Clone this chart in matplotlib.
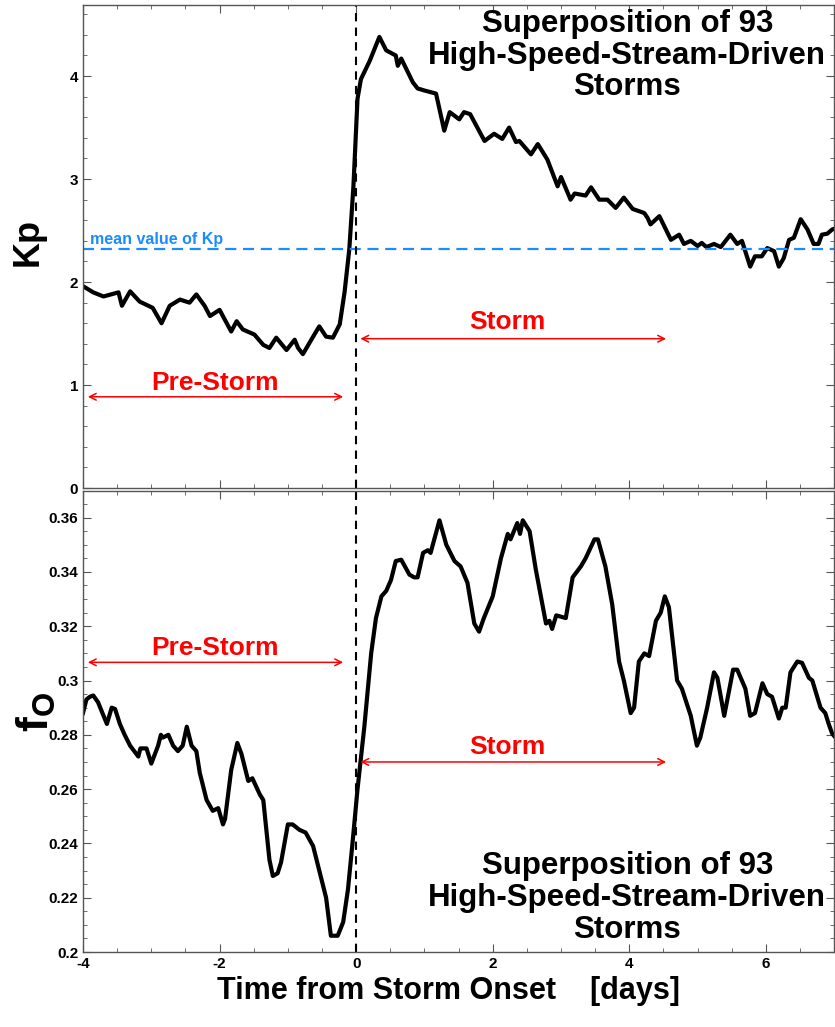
import numpy as np
import matplotlib
matplotlib.use("Agg")
import matplotlib.pyplot as plt
from matplotlib.ticker import MultipleLocator, FuncFormatter

plt.rcParams['font.family'] = ['Liberation Sans', 'DejaVu Sans']
plt.rcParams['font.weight'] = 'bold'
plt.rcParams['mathtext.fontset'] = 'custom'
plt.rcParams['mathtext.rm'] = 'Liberation Sans:bold'
plt.rcParams['mathtext.bf'] = 'Liberation Sans:bold'

# superposed Kp (days from onset, Kp)
kp_t = [-4.0, -3.85, -3.70, -3.48, -3.43, -3.31, -3.17, -2.98, -2.85, -2.73, -2.58,
        -2.44, -2.34, -2.22, -2.14, -2.0, -1.83, -1.75, -1.66, -1.49, -1.36, -1.27,
        -1.17, -1.02, -0.90, -0.85, -0.78, -0.63, -0.54, -0.44, -0.34, -0.24, -0.17,
        -0.10, -0.04, 0.02, 0.07, 0.20, 0.34, 0.44, 0.58, 0.61, 0.66, 0.83, 0.90,
        1.0, 1.17, 1.29, 1.37, 1.51, 1.58, 1.67, 1.88, 2.02, 2.14, 2.24, 2.34, 2.39,
        2.56, 2.66, 2.80, 2.95, 3.0, 3.14, 3.2, 3.36, 3.44, 3.56, 3.68, 3.80, 3.92,
        4.05, 4.22, 4.27, 4.31, 4.44, 4.61, 4.73, 4.80, 4.90, 5.0, 5.06, 5.13, 5.24,
        5.34, 5.48, 5.58, 5.65, 5.77, 5.84, 5.94, 6.02, 6.12, 6.19, 6.26, 6.34, 6.41,
        6.51, 6.61, 6.70, 6.77, 6.82, 6.90, 6.97, 7.05]
kp_v = [1.96, 1.90, 1.86, 1.90, 1.77, 1.91, 1.81, 1.75, 1.60, 1.77, 1.83,
        1.80, 1.88, 1.77, 1.67, 1.73, 1.52, 1.62, 1.54, 1.49, 1.39, 1.36,
        1.46, 1.34, 1.44, 1.36, 1.30, 1.47, 1.57, 1.47, 1.46, 1.59, 1.90,
        2.32, 2.93, 3.78, 3.97, 4.15, 4.38, 4.25, 4.20, 4.10, 4.17, 3.94, 3.88,
        3.86, 3.83, 3.47, 3.65, 3.58, 3.65, 3.63, 3.37, 3.44, 3.39, 3.50, 3.36, 3.37,
        3.24, 3.34, 3.19, 2.93, 3.02, 2.80, 2.86, 2.84, 2.92, 2.80, 2.80, 2.72, 2.82,
        2.71, 2.67, 2.62, 2.56, 2.64, 2.41, 2.46, 2.37, 2.40, 2.35, 2.38, 2.34, 2.37,
        2.34, 2.46, 2.37, 2.40, 2.15, 2.25, 2.25, 2.33, 2.30, 2.15, 2.23, 2.41, 2.43,
        2.61, 2.51, 2.37, 2.37, 2.46, 2.47, 2.51, 2.53]
kp_mean = 2.32

# superposed O+ fraction
fo_t = [-4.0, -3.95, -3.90, -3.85, -3.78, -3.65, -3.58, -3.53, -3.46, -3.39, -3.31,
        -3.19, -3.16, -3.07, -3.0, -2.90, -2.86, -2.83, -2.75, -2.68, -2.61, -2.54,
        -2.48, -2.41, -2.34, -2.29, -2.19, -2.10, -2.02, -1.95, -1.92, -1.83, -1.74,
        -1.68, -1.58, -1.52, -1.41, -1.36, -1.27, -1.22, -1.15, -1.10, -1.0, -0.93,
        -0.83, -0.74, -0.63, -0.54, -0.44, -0.37, -0.27, -0.19, -0.12, -0.05, 0.02,
        0.12, 0.22, 0.29, 0.37, 0.44, 0.51, 0.58, 0.66, 0.78, 0.85, 0.90, 0.98, 1.05,
        1.09, 1.22, 1.32, 1.44, 1.53, 1.63, 1.73, 1.80, 1.87, 2.0, 2.12, 2.22, 2.26,
        2.36, 2.40, 2.44, 2.54, 2.63, 2.78, 2.83, 2.87, 2.93, 3.07, 3.17, 3.29, 3.36,
        3.49, 3.54, 3.65, 3.75, 3.85, 3.92, 4.02, 4.07, 4.14, 4.22, 4.29, 4.39, 4.46,
        4.52, 4.58, 4.70, 4.77, 4.90, 4.99, 5.04, 5.14, 5.24, 5.29, 5.39, 5.52, 5.58,
        5.70, 5.77, 5.84, 5.95, 6.02, 6.09, 6.19, 6.24, 6.29, 6.36, 6.46, 6.53, 6.63,
        6.68, 6.80, 6.87, 6.92, 6.97, 7.05]
fo_v = [0.288, 0.293, 0.294, 0.2945, 0.292, 0.284, 0.290, 0.2895, 0.284, 0.280, 0.276,
        0.272, 0.275, 0.275, 0.2694, 0.276, 0.280, 0.279, 0.280, 0.276, 0.274, 0.276,
        0.283, 0.276, 0.274, 0.266, 0.256, 0.252, 0.253, 0.247, 0.249, 0.267, 0.277,
        0.273, 0.263, 0.264, 0.258, 0.256, 0.234, 0.228, 0.229, 0.233, 0.247, 0.247,
        0.245, 0.244, 0.239, 0.230, 0.220, 0.206, 0.206, 0.211, 0.223, 0.241, 0.260,
        0.283, 0.310, 0.323, 0.331, 0.333, 0.337, 0.344, 0.3445, 0.339, 0.338, 0.338,
        0.347, 0.348, 0.347, 0.359, 0.350, 0.344, 0.342, 0.336, 0.321, 0.318, 0.323,
        0.331, 0.345, 0.354, 0.352, 0.358, 0.354, 0.359, 0.355, 0.341, 0.321, 0.322,
        0.319, 0.324, 0.323, 0.338, 0.342, 0.345, 0.352, 0.352, 0.342, 0.328, 0.307,
        0.300, 0.288, 0.290, 0.307, 0.310, 0.309, 0.322, 0.325, 0.331, 0.327, 0.300,
        0.297, 0.287, 0.276, 0.279, 0.290, 0.303, 0.301, 0.287, 0.304, 0.304, 0.297,
        0.287, 0.288, 0.299, 0.295, 0.294, 0.286, 0.290, 0.290, 0.303, 0.307, 0.3065,
        0.301, 0.300, 0.290, 0.288, 0.284, 0.2805, 0.278]

title_txt = "Superposition of 93\nHigh-Speed-Stream-Driven\nStorms"
red = '#ff0000'
blue = '#1a8cff'

fig = plt.figure(figsize=(8.35, 10.27), dpi=100)
ax1 = fig.add_axes([0.0994, 0.5248, 0.8996, 0.4703])
ax2 = fig.add_axes([0.0994, 0.0730, 0.8996, 0.4489])


def style(ax):
    for s in ax.spines.values():
        s.set_color('#555555')
        s.set_linewidth(1.0)
    ax.tick_params(which='both', direction='in', top=True, right=True,
                   labelsize=11, color='#555555')
    ax.tick_params(which='major', length=6)
    ax.tick_params(which='minor', length=3)
    ax.set_xlim(-4, 7)
    ax.xaxis.set_major_locator(MultipleLocator(2))
    ax.xaxis.set_minor_locator(MultipleLocator(0.5))


def span_arrow(ax, x0, x1, y, label, xlab, ylab):
    ax.annotate('', xy=(x0, y), xytext=(x1, y),
                arrowprops=dict(arrowstyle='<->', color=red, lw=1.1, mutation_scale=12))
    ax.text(xlab, ylab, label, color=red, fontsize=19, fontweight='bold',
            ha='center', va='center')


# Kp panel
style(ax1)
ax1.plot(kp_t, kp_v, color='black', lw=3)
ax1.axhline(kp_mean, color=blue, ls='--', lw=1.6, dashes=(5, 3))
ax1.axvline(0, color='black', ls='--', lw=1.5, dashes=(4, 3))
ax1.set_ylim(0, 4.69)
ax1.yaxis.set_major_locator(MultipleLocator(1))
ax1.yaxis.set_minor_locator(MultipleLocator(0.2))
ax1.tick_params(labelbottom=False)
ax1.text(-3.9, kp_mean + 0.02, 'mean value of Kp', color=blue,
         fontsize=11.5, fontweight='bold', va='bottom')
ax1.text(3.97, 4.197, title_txt, ha='center', va='center', fontsize=22.5,
         fontweight='bold', linespacing=1.07)
span_arrow(ax1, -3.97, -0.15, 0.886, 'Pre-Storm', -2.06, 1.02)
span_arrow(ax1, 0.02, 4.58, 1.45, 'Storm', 2.21, 1.61)
fig.text(28 / 835, 1 - 242 / 1027, 'Kp', rotation=90, fontsize=26,
         fontweight='bold', ha='center', va='center')

# O+ fraction panel
style(ax2)
ax2.plot(fo_t, fo_v, color='black', lw=3)
ax2.axvline(0, color='black', ls='--', lw=1.5, dashes=(4, 3))
ax2.set_ylim(0.2, 0.3698)
ax2.yaxis.set_major_locator(MultipleLocator(0.02))
ax2.yaxis.set_minor_locator(MultipleLocator(0.005))
ax2.yaxis.set_major_formatter(FuncFormatter(lambda v, p: '%g' % round(v, 3)))
ax2.xaxis.set_major_formatter(FuncFormatter(lambda v, p: '%g' % v))
ax2.set_xlabel('Time from Storm Onset    [days]', fontsize=22, fontweight='bold',
               labelpad=4)
ax2.xaxis.label.set_x((448 - 83) / 751)
ax2.text(3.97, 0.2199, title_txt, ha='center', va='center', fontsize=22.5,
         fontweight='bold', linespacing=1.07)
span_arrow(ax2, -3.97, -0.15, 0.3067, 'Pre-Storm', -2.06, 0.3119)
span_arrow(ax2, 0.02, 4.58, 0.270, 'Storm', 2.21, 0.2755)
fig.text(36 / 835, 1 - 712 / 1027, r'f$_{\mathrm{O}}$', rotation=90, fontsize=32,
         fontweight='bold', ha='center', va='center')

fig.savefig('out.png', dpi=100)
